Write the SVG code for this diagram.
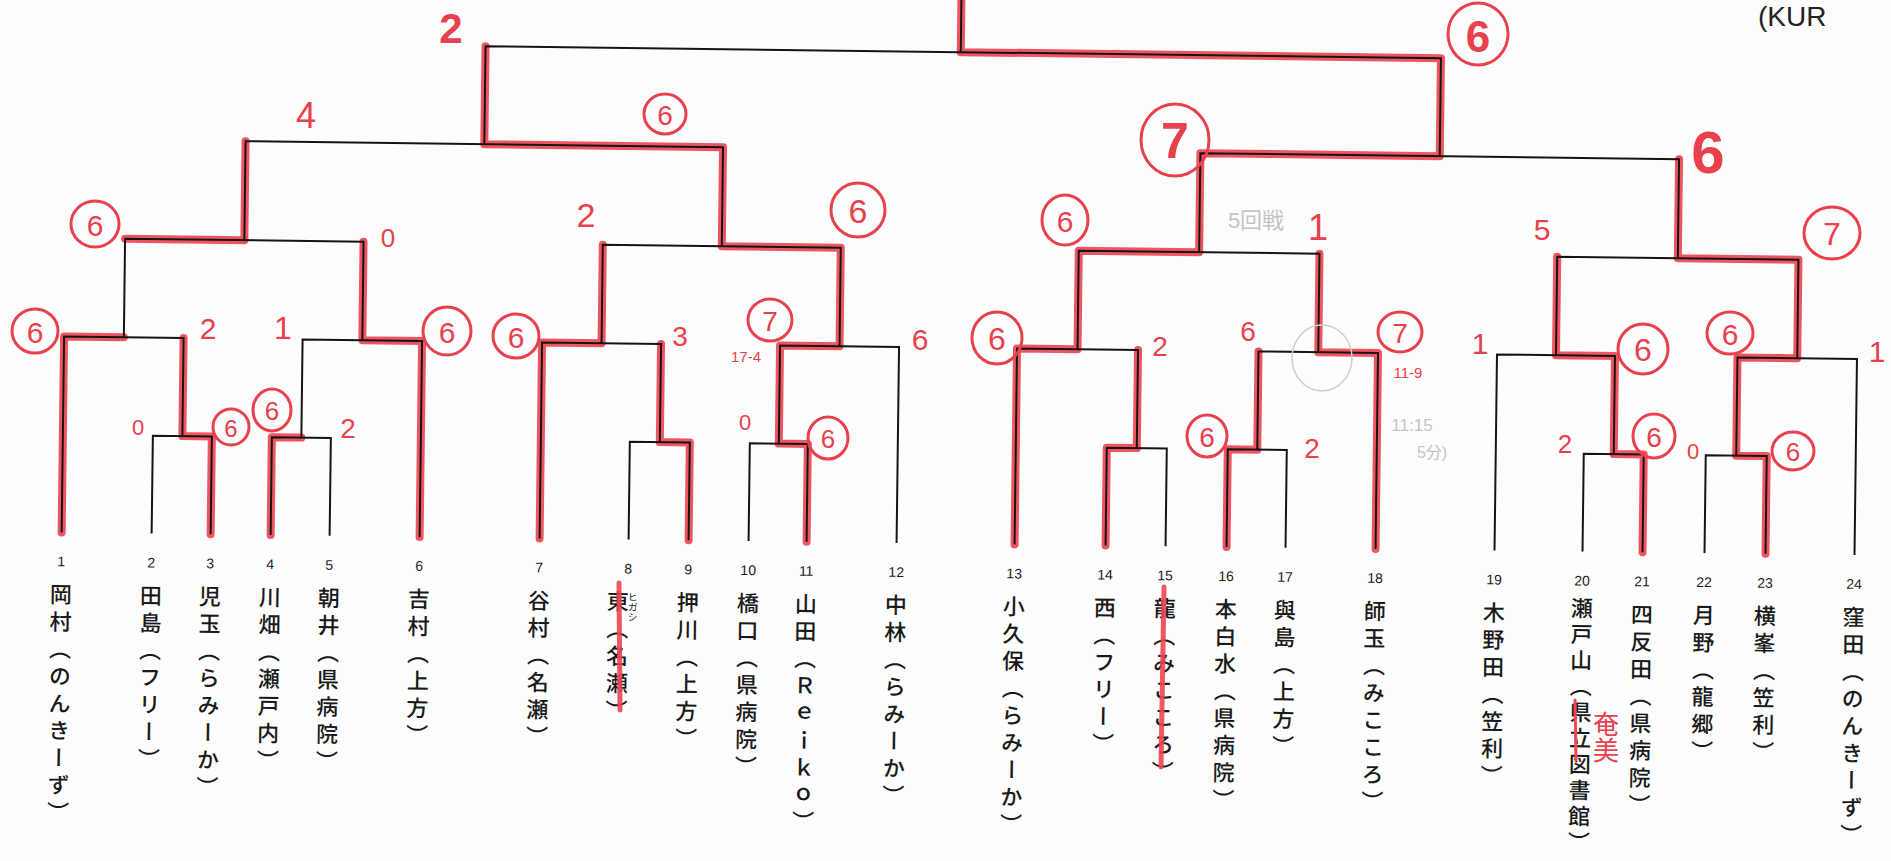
<svg xmlns="http://www.w3.org/2000/svg" width="1891" height="861" viewBox="0 0 1891 861">
<defs>
<style>
.bk{fill:none;stroke:#151515;stroke-width:2;stroke-linejoin:miter}
.rd{fill:none;stroke:#ee4653;stroke-width:8;stroke-linecap:round;stroke-linejoin:round;opacity:0.92}
.nm{font-family:"Noto Sans CJK JP","Noto Sans CJK SC",sans-serif;font-size:22px;font-weight:500;writing-mode:vertical-rl;letter-spacing:5.2px;fill:#1a1a1a}
.rb{font-family:"Noto Sans CJK JP",sans-serif;font-size:10px;writing-mode:vertical-rl;fill:#1a1a1a}
.no{font-family:"Liberation Sans",Arial,sans-serif;font-size:14px;text-anchor:middle;fill:#1a1a1a}
.hw{font-family:"Liberation Sans",Arial,sans-serif;fill:#e8404c;text-anchor:middle;dominant-baseline:central}
.cr{fill:none;stroke:#e8404c;stroke-width:3}
.gy{font-family:"Liberation Sans","Noto Sans CJK JP",sans-serif;fill:#c4c4c4;text-anchor:middle;dominant-baseline:central}
</style>
</defs>
<rect width="1891" height="861" fill="#fdfdfd"/>
<g transform="rotate(0.72 945 430)">
<g id="winner-marks">
<path class="rd" d="M63,543.5 V347.5 H122.75"/>
<path class="rd" d="M212,543.5 V445.7 H182.5 V347.5"/>
<path class="rd" d="M122.75,249 H242 V150"/>
<path class="rd" d="M272,543.5 V445.7 H301.5"/>
<path class="rd" d="M421,543.5 V347.5 H361.25 V249"/>
<path class="rd" d="M541,543.5 V347.5 H600.5 V249"/>
<path class="rd" d="M690,543.5 V445.7 H660 V347.5"/>
<path class="rd" d="M808,543.5 V445.7 H779 V347.5 H838.5 V249 H719.5 V150 H480.75 V52"/>
<path class="rd" d="M1016,543.5 V347.5 H1076.5 V249 H1196.9 V150 H1436.25 V52 H956 V-30"/>
<path class="rd" d="M1107,543.5 V445.7 H1137 V347.5"/>
<path class="rd" d="M1228,543.5 V445.7 H1257.5 V347.5"/>
<path class="rd" d="M1377,543.5 V347.5 H1317.25 V249"/>
<path class="rd" d="M1644,543.5 V445.7 H1614 V347.5 H1555 V249"/>
<path class="rd" d="M1767,543.5 V445.7 H1736.5 V347.5 H1796.25 V249 H1675.6 V150"/>
</g>
<g id="connectors">
<path class="bk" d="M153,543.5 V445.7 H212 V543.5"/>
<path class="bk" d="M272,543.5 V445.7 H331 V543.5"/>
<path class="bk" d="M63,543.5 V347.5 H182.5 V445.7"/>
<path class="bk" d="M301.5,445.7 V347.5 H421 V543.5"/>
<path class="bk" d="M122.75,347.5 V249 H361.25 V347.5"/>
<path class="bk" d="M630,543.5 V445.7 H690 V543.5"/>
<path class="bk" d="M750,543.5 V445.7 H808 V543.5"/>
<path class="bk" d="M541,543.5 V347.5 H660 V445.7"/>
<path class="bk" d="M779,445.7 V347.5 H898 V543.5"/>
<path class="bk" d="M600.5,347.5 V249 H838.5 V347.5"/>
<path class="bk" d="M242,249 V150 H719.5 V249"/>
<path class="bk" d="M1107,543.5 V445.7 H1167 V543.5"/>
<path class="bk" d="M1228,543.5 V445.7 H1287 V543.5"/>
<path class="bk" d="M1016,543.5 V347.5 H1137 V445.7"/>
<path class="bk" d="M1257.5,445.7 V347.5 H1377 V543.5"/>
<path class="bk" d="M1076.5,347.5 V249 H1317.25 V347.5"/>
<path class="bk" d="M1584,543.5 V445.7 H1644 V543.5"/>
<path class="bk" d="M1706,543.5 V445.7 H1767 V543.5"/>
<path class="bk" d="M1496,543.5 V347.5 H1614 V445.7"/>
<path class="bk" d="M1736.5,445.7 V347.5 H1856 V543.5"/>
<path class="bk" d="M1555,347.5 V249 H1796.25 V347.5"/>
<path class="bk" d="M1196.9,249 V150 H1675.6 V249"/>
<path class="bk" d="M480.75,150 V52 H1436.25 V150"/>
<path class="bk" d="M956,52 V-30"/>
</g>
<g id="p1"><text class="no" x="63" y="577.5">1</text><text class="nm" x="63" y="594.5">岡村（のんきーず）</text></g>
<g id="p2"><text class="no" x="153" y="577.5">2</text><text class="nm" x="153" y="594.5">田島（フリー）</text></g>
<g id="p3"><text class="no" x="212" y="577.5">3</text><text class="nm" x="212" y="594.5">児玉（らみーか）</text></g>
<g id="p4"><text class="no" x="272" y="577.5">4</text><text class="nm" x="272" y="594.5">川畑（瀬戸内）</text></g>
<g id="p5"><text class="no" x="331" y="577.5">5</text><text class="nm" x="331" y="594.5">朝井（県病院）</text></g>
<g id="p6"><text class="no" x="421" y="577.5">6</text><text class="nm" x="421" y="594.5">吉村（上方）</text></g>
<g id="p7"><text class="no" x="541" y="577.5">7</text><text class="nm" x="541" y="594.5">谷村（名瀬）</text></g>
<g id="p8"><text class="no" x="630" y="577.5">8</text><text class="nm" x="620" y="594.5">東（名瀬）</text><text class="rb" x="635" y="596">ヒガシ</text></g>
<g id="p9"><text class="no" x="690" y="577.5">9</text><text class="nm" x="690" y="594.5">押川（上方）</text></g>
<g id="p10"><text class="no" x="750" y="577.5">10</text><text class="nm" x="750" y="594.5">橋口（県病院）</text></g>
<g id="p11"><text class="no" x="808" y="577.5">11</text><text class="nm" x="808" y="594.5">山田（Ｒｅｉｋｏ）</text></g>
<g id="p12"><text class="no" x="898" y="577.5">12</text><text class="nm" x="898" y="594.5">中林（らみーか）</text></g>
<g id="p13"><text class="no" x="1016" y="577.5">13</text><text class="nm" x="1016" y="594.5">小久保（らみーか）</text></g>
<g id="p14"><text class="no" x="1107" y="577.5">14</text><text class="nm" x="1107" y="594.5">西（フリー）</text></g>
<g id="p15"><text class="no" x="1167" y="577.5">15</text><text class="nm" x="1167" y="594.5">龍（みこころ）</text></g>
<g id="p16"><text class="no" x="1228" y="577.5">16</text><text class="nm" x="1228" y="594.5">本白水（県病院）</text></g>
<g id="p17"><text class="no" x="1287" y="577.5">17</text><text class="nm" x="1287" y="594.5">與島（上方）</text></g>
<g id="p18"><text class="no" x="1377" y="577.5">18</text><text class="nm" x="1377" y="594.5">師玉（みこころ）</text></g>
<g id="p19"><text class="no" x="1496" y="577.5">19</text><text class="nm" x="1496" y="594.5">木野田（笠利）</text></g>
<g id="p20"><text class="no" x="1584" y="577.5">20</text><text class="nm" x="1584" y="589" style="letter-spacing:4px">瀬戸山（県立図書館）</text></g>
<g id="p21"><text class="no" x="1644" y="577.5">21</text><text class="nm" x="1644" y="594.5">四反田（県病院）</text></g>
<g id="p22"><text class="no" x="1706" y="577.5">22</text><text class="nm" x="1706" y="594.5">月野（龍郷）</text></g>
<g id="p23"><text class="no" x="1767" y="577.5">23</text><text class="nm" x="1767" y="594.5">横峯（笠利）</text></g>
<g id="p24"><text class="no" x="1856" y="577.5">24</text><text class="nm" x="1856" y="594.5">窪田（のんきーず）</text></g>
</g>
<g id="annotations">
<path d="M619,583 L620,710" stroke="#ee4653" stroke-width="5" stroke-linecap="round" opacity="0.9"/>
<path d="M1164,587 L1161,767" stroke="#ee4653" stroke-width="5" stroke-linecap="round" opacity="0.9"/>
<path d="M1575,700 L1576,760" stroke="#ee4653" stroke-width="3" stroke-linecap="round"/>
<text class="hw" x="1606" y="737" style="font-family:'Noto Sans CJK JP',sans-serif;font-size:26px;writing-mode:vertical-rl;dominant-baseline:auto" text-anchor="middle">奄美</text>
<ellipse class="cr" cx="1478" cy="34" rx="30" ry="31" stroke-width="5"/><text class="hw" x="1478" y="36" font-size="44" font-weight="bold">6</text>
<ellipse class="cr" cx="665" cy="114" rx="21" ry="20"/><text class="hw" x="665" y="115" font-size="28">6</text>
<ellipse class="cr" cx="95" cy="224" rx="24" ry="23"/><text class="hw" x="95" y="225" font-size="30">6</text>
<ellipse class="cr" cx="858" cy="210" rx="27" ry="27"/><text class="hw" x="858" y="211" font-size="34">6</text>
<ellipse class="cr" cx="35" cy="331" rx="23" ry="22"/><text class="hw" x="35" y="332" font-size="30">6</text>
<ellipse class="cr" cx="447" cy="331" rx="24" ry="24"/><text class="hw" x="447" y="332" font-size="30">6</text>
<ellipse class="cr" cx="231" cy="427" rx="18" ry="18"/><text class="hw" x="231" y="428" font-size="24">6</text>
<ellipse class="cr" cx="272" cy="410" rx="19" ry="21"/><text class="hw" x="272" y="411" font-size="26">6</text>
<ellipse class="cr" cx="516" cy="336" rx="23" ry="22"/><text class="hw" x="516" y="337" font-size="30">6</text>
<ellipse class="cr" cx="770" cy="320" rx="22" ry="21"/><text class="hw" x="770" y="321" font-size="28">7</text>
<ellipse class="cr" cx="828" cy="438" rx="20" ry="21"/><text class="hw" x="828" y="439" font-size="26">6</text>
<ellipse class="cr" cx="1175" cy="140" rx="34" ry="36" stroke-width="6"/><text class="hw" x="1175" y="141" font-size="50" font-weight="bold">7</text>
<ellipse class="cr" cx="1065" cy="220" rx="23" ry="25"/><text class="hw" x="1065" y="221" font-size="30">6</text>
<ellipse class="cr" cx="1832" cy="233" rx="28" ry="26"/><text class="hw" x="1832" y="234" font-size="32">7</text>
<ellipse class="cr" cx="997" cy="338" rx="25" ry="26"/><text class="hw" x="997" y="339" font-size="32">6</text>
<ellipse class="cr" cx="1400" cy="332" rx="22" ry="20"/><text class="hw" x="1400" y="333" font-size="28">7</text>
<ellipse class="cr" cx="1207" cy="436" rx="20" ry="21"/><text class="hw" x="1207" y="437" font-size="28">6</text>
<ellipse class="cr" cx="1643" cy="349" rx="25" ry="25"/><text class="hw" x="1643" y="350" font-size="32">6</text>
<ellipse class="cr" cx="1730" cy="333" rx="23" ry="21"/><text class="hw" x="1730" y="334" font-size="30">6</text>
<ellipse class="cr" cx="1654" cy="436" rx="21" ry="22"/><text class="hw" x="1654" y="437" font-size="28">6</text>
<ellipse class="cr" cx="1793" cy="451" rx="21" ry="19"/><text class="hw" x="1793" y="452" font-size="26">6</text>
<text class="hw" x="451" y="28" font-size="42" font-weight="bold">2</text>
<text class="hw" x="306" y="115" font-size="36">4</text>
<text class="hw" x="388" y="238" font-size="26">0</text>
<text class="hw" x="586" y="215" font-size="34">2</text>
<text class="hw" x="208" y="328" font-size="30">2</text>
<text class="hw" x="283" y="328" font-size="32">1</text>
<text class="hw" x="138" y="427" font-size="22">0</text>
<text class="hw" x="348" y="428" font-size="28">2</text>
<text class="hw" x="680" y="336" font-size="28">3</text>
<text class="hw" x="746" y="356" font-size="15">17-4</text>
<text class="hw" x="920" y="339" font-size="30">6</text>
<text class="hw" x="745" y="422" font-size="22">0</text>
<text class="hw" x="1318" y="227" font-size="36">1</text>
<text class="hw" x="1542" y="229" font-size="30">5</text>
<text class="hw" x="1708" y="152" font-size="60" font-weight="bold">6</text>
<text class="hw" x="1160" y="346" font-size="28">2</text>
<text class="hw" x="1248" y="331" font-size="28">6</text>
<text class="hw" x="1408" y="372" font-size="15">11-9</text>
<text class="hw" x="1312" y="448" font-size="28">2</text>
<text class="hw" x="1480" y="343" font-size="30">1</text>
<text class="hw" x="1877" y="351" font-size="30">1</text>
<text class="hw" x="1565" y="444" font-size="26">2</text>
<text class="hw" x="1693" y="451" font-size="22">0</text>
<text class="gy" x="1256" y="220" font-size="22">5回戦</text>
<ellipse cx="1322" cy="358" rx="30" ry="33" fill="none" stroke="#cfcfcf" stroke-width="1.5"/>
<text class="gy" x="1412" y="425" font-size="17">11:15</text>
<text class="gy" x="1432" y="452" font-size="16">5分)</text>
<text x="1758" y="26" font-family="Liberation Sans, Arial, sans-serif" font-size="28" fill="#222">(KUR</text>
</g>
</svg>
